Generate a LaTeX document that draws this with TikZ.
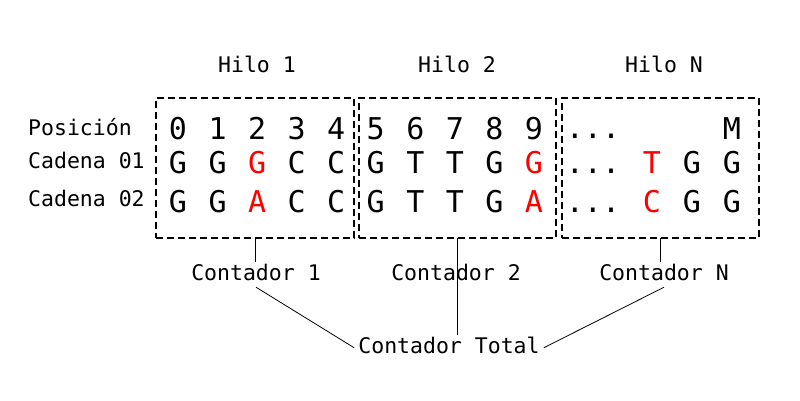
\documentclass[tikz,border=0pt]{standalone}
\usepackage{fontspec}
\setmainfont{DejaVu Sans Mono}
\begin{document}
\begin{tikzpicture}[x=1pt,y=-1pt]
	\tikzstyle{hilo}=[draw,dash pattern=on 7pt off 4pt,line width=2pt,minimum height=140pt,inner sep=0pt,outer sep=0pt];
	\tikzstyle{letra}=[anchor=base,font=\fontsize{30}{30}\selectfont,inner sep=0pt];
	\tikzstyle{etiq}=[anchor=base,font=\fontsize{21.5}{21.5}\selectfont];
	\tikzstyle{cont}=[etiq,inner sep=1pt,text depth=6pt];
	\tikzstyle{enlace}=[line width=0.8pt];

	\useasboundingbox (0,0) rectangle (800,400);

	% bloques de los hilos
	\node[hilo,minimum width=198pt] (b1) at (255,168) {};
	\node[hilo,minimum width=197pt] (b2) at (457.5,168) {};
	\node[hilo,minimum width=197pt] (b3) at (660.5,168) {};

	\node[etiq] (h1) at (257,72) {Hilo 1};
	\node[etiq] (h2) at (457,72) {Hilo 2};
	\node[etiq] (hN) at (664,72) {Hilo N};

	\node[etiq,anchor=base west,inner sep=0pt] (pos)  at (28,135) {Posición};
	\node[etiq,anchor=base west,inner sep=0pt] (cad1) at (28,168) {Cadena 01};
	\node[etiq,anchor=base west,inner sep=0pt] (cad2) at (28,206) {Cadena 02};

	% posiciones 0..9
	\foreach \i/\a/\b/\c in {0/G/G/black,1/G/G/black,2/G/A/red,3/C/C/black,4/C/C/black,
		5/G/G/black,6/T/T/black,7/T/T/black,8/G/G/black,9/G/A/red}{
		\node[letra] (p\i) at (178+39.55*\i,139) {\i};
		\node[letra,text=\c] (x\i) at (178+39.55*\i,173) {\a};
		\node[letra,text=\c] (y\i) at (178+39.55*\i,212) {\b};
	}
	% ultimo hilo
	\node[letra] (pd) at (593,138) {...};
	\node[letra] (xd) at (593,173) {...};
	\node[letra] (yd) at (593,212) {...};
	\node[letra] (pM) at (732,139) {M};
	\node[letra,text=red] (xT) at (652,173) {T};
	\node[letra] (xG1) at (692,173) {G};
	\node[letra] (xG2) at (732,173) {G};
	\node[letra,text=red] (yC) at (652,212) {C};
	\node[letra] (yG1) at (692,212) {G};
	\node[letra] (yG2) at (732,212) {G};

	% contadores
	\node[cont] (k1) at (256,280) {Contador 1};
	\node[cont] (k2) at (456,280) {Contador 2};
	\node[cont] (kN) at (664,280) {Contador N};
	\node[cont,inner xsep=4pt] (tot) at (449,353) {Contador Total};

	\draw[enlace] (b1.south) -- (b1.south |- k1.north);
	\draw[enlace] (b2.south) -- (b2.south |- tot.north);
	\draw[enlace] (b3.south) -- (b3.south |- kN.north);
	\draw[enlace] (k1.south) -- (tot.west);
	\draw[enlace] (kN.south) -- (tot.east);
\end{tikzpicture}
\end{document}
